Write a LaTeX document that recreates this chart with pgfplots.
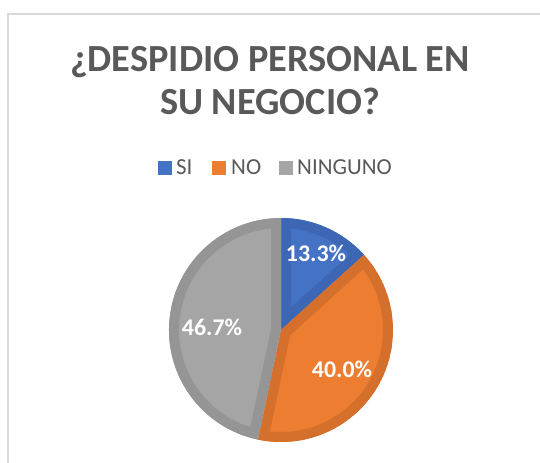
\documentclass[border=0pt]{standalone}
\usepackage{pgfplots}
\usepackage{pgfplotstable}
\pgfplotsset{compat=1.18}
\usepackage{fontspec}
\setmainfont{Carlito}
\definecolor{cblue}{HTML}{4472C4}
\definecolor{cbluedk}{HTML}{3D67B5}
\definecolor{corange}{HTML}{ED7D31}
\definecolor{corangedk}{HTML}{D5702C}
\definecolor{cgray}{HTML}{A5A5A5}
\definecolor{cgraydk}{HTML}{959595}
\definecolor{ctitle}{HTML}{595959}
\definecolor{cframe}{HTML}{D9D9D9}

\pgfplotstableread{
label value
SI 13.3
NO 40.0
NINGUNO 46.7
}\piedata

\pgfplotstablegetelem{0}{value}\of\piedata \let\vA\pgfplotsretval
\pgfplotstablegetelem{1}{value}\of\piedata \let\vB\pgfplotsretval
\pgfplotstablegetelem{2}{value}\of\piedata \let\vC\pgfplotsretval
\pgfmathsetmacro{\aA}{90}
\pgfmathsetmacro{\aB}{\aA-3.6*\vA}
\pgfmathsetmacro{\aC}{\aB-3.6*\vB}
\pgfmathsetmacro{\aD}{\aC-3.6*\vC}

\newcommand{\slice}[4]{%
  \begin{scope}
    \clip (axis cs:281,132) -- ++(#1:112bp) arc[start angle=#1, end angle=#2, radius=112bp] -- cycle;
    \fill[fill=#3, draw=#4, line width=20bp] (axis cs:281,132) -- ++(#1:112bp) arc[start angle=#1, end angle=#2, radius=112bp] -- cycle;
  \end{scope}}
\newcommand{\pct}[1]{\pgfmathprintnumber[fixed,fixed zerofill,precision=1,assume math mode=true]{#1}\%}

\begin{document}
\begin{tikzpicture}
\begin{axis}[
  scale only axis, width=540bp, height=462bp,
  xmin=0, xmax=540, ymin=0, ymax=462,
  hide axis, clip=true,
]
\path (axis cs:0,0) rectangle (axis cs:540,462);
\draw[cframe, line width=1.5bp] (axis cs:8,-10) -- (axis cs:8,448) -- (axis cs:560,448);

\slice{\aA}{\aB}{cblue}{cbluedk}
\slice{\aB}{\aC}{corange}{corangedk}
\slice{\aC}{\aD}{cgray}{cgraydk}

\node[text=white, font=\bfseries\fontsize{24}{28}\selectfont] at (axis cs:316,209) {\pct{\vA}};
\node[text=white, font=\bfseries\fontsize{24}{28}\selectfont] at (axis cs:342,93) {\pct{\vB}};
\node[text=white, font=\bfseries\fontsize{24}{28}\selectfont] at (axis cs:212,135) {\pct{\vC}};

\node[text=ctitle, font=\bfseries\fontsize{38.5}{43}\selectfont, anchor=base] at (axis cs:270,390) {¿DESPIDIO PERSONAL EN};
\node[text=ctitle, font=\bfseries\fontsize{38.5}{43}\selectfont, anchor=base] at (axis cs:270,347) {SU NEGOCIO?};

\fill[cblue] (axis cs:158,287) rectangle (axis cs:172,301);
\node[text=ctitle, font=\fontsize{23}{27}\selectfont, anchor=base west, inner sep=0pt] at (axis cs:176,287) {SI};
\fill[corange] (axis cs:212,287) rectangle (axis cs:226,301);
\node[text=ctitle, font=\fontsize{23}{27}\selectfont, anchor=base west, inner sep=0pt] at (axis cs:231,287) {NO};
\fill[cgray] (axis cs:279,287) rectangle (axis cs:293,301);
\node[text=ctitle, font=\fontsize{23}{27}\selectfont, anchor=base west, inner sep=0pt] at (axis cs:297,287) {NINGUNO};
\end{axis}
\end{tikzpicture}
\end{document}
